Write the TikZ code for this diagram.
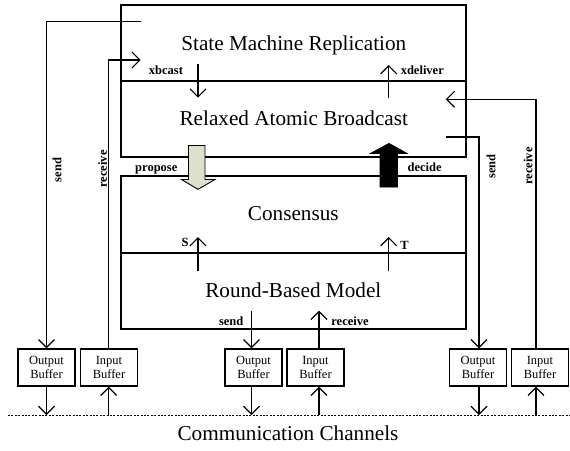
\documentclass[tikz,border=0pt]{standalone}
\usepackage{fontspec}
\setmainfont{Liberation Serif}
\usetikzlibrary{arrows.meta}
\definecolor{proposefill}{HTML}{DCE1CB}
\begin{document}
\begin{tikzpicture}[x=1pt,y=-1pt,line width=1.2pt,
  layerbox/.style={draw,rectangle,minimum width=345pt,inner sep=0pt},
  bufbox/.style={draw,rectangle,minimum width=57pt,minimum height=37pt,inner sep=0pt,
    align=center,font=\fontsize{12.5}{14}\selectfont},
  title/.style={anchor=base,inner sep=0pt,font=\fontsize{21.2}{24}\selectfont},
  lbl/.style={inner sep=0pt,font=\bfseries\fontsize{12.5}{14}\selectfont},
  arr/.style={-{Straight Barb[length=8pt,width=16pt]}}]
\useasboundingbox (0,0) rectangle (570,450);
% layers
\node[layerbox,minimum height=76pt] (smr) at (293.5,43) {};
\node[layerbox,minimum height=76pt] (rab) at (293.5,119) {};
\node[layerbox,minimum height=77pt] (cons) at (293.5,214.5) {};
\node[layerbox,minimum height=76pt] (rbm) at (293.5,291) {};
\node[title] (tsmr) at (293.8,50) {State Machine Replication};
\node[title] (trab) at (293.8,125) {Relaxed Atomic Broadcast};
\node[title] (tcons) at (293.3,220.7) {Consensus};
\node[title] (trbm) at (293.3,297.7) {Round-Based Model};
% buffers
\node[bufbox] (ob1) at (46.5,367.5) {Output\\Buffer};
\node[bufbox] (ib1) at (109,367.5) {Input\\Buffer};
\node[bufbox] (ob2) at (253.5,367.5) {Output\\Buffer};
\node[bufbox] (ib2) at (315.5,367.5) {Input\\Buffer};
\node[bufbox] (ob3) at (478,367.5) {Output\\Buffer};
\node[bufbox] (ib3) at (540,367.5) {Input\\Buffer};
% channel
\coordinate (chL) at (8,415);
\coordinate (chR) at (570,415);
\draw[line width=1pt,dash pattern=on 2pt off 1.4pt] (chL) -- (chR);
\node[title] (tch) at (288,440) {Communication Channels};
% column x positions
\coordinate (x1) at (46.5,0);
\coordinate (x2) at (108.7,0);
\coordinate (x3) at (251.5,0);
\coordinate (x4) at (319,0);
\coordinate (x5) at (479,0);
\coordinate (x6) at (536,0);
% left send / receive
\coordinate (smrSend) at (140.7,21.7);
\coordinate (smrRecv) at (140.7,60);
\draw[arr] (smrSend) -| (ob1.north -| x1);
\draw[arr] (ib1.north -| x2) |- (smrRecv);
\node[lbl,rotate=90] (lsend) at (57,170) {send};
\node[lbl,rotate=90] (lrecv) at (102.5,169) {receive};
% xbcast / xdeliver
\coordinate (xbA) at (198,64);
\coordinate (xbB) at (198,97.7);
\coordinate (xdA) at (388.7,98);
\coordinate (xdB) at (388.7,65);
\draw[arr] (xbA) -- (xbB);
\draw[arr] (xdA) -- (xdB);
\node[lbl,anchor=base] (lxb) at (166,74.7) {xbcast};
\node[lbl,anchor=base] (lxd) at (422.3,74.7) {xdeliver};
% right send / receive
\coordinate (rabRecv) at (445.7,99.3);
\coordinate (rabSend) at (445.7,137);
\draw[arr] (ib3.north -| x6) |- (rabRecv);
\draw[arr] (rabSend) -| (ob3.north -| x5);
\node[lbl,rotate=90] (rsend) at (491,166.5) {send};
\node[lbl,rotate=90] (rrecv) at (528,166) {receive};
% propose / decide block arrows
\filldraw[fill=proposefill,line width=0.9pt] (188.5,145.5) -- (205,145.5) -- (205,179.5) -- (215,179.5)
  -- (198,189.3) -- (181.5,179.5) -- (188.5,179.5) -- cycle;
\filldraw[fill=black,line width=0.9pt] (380,187) -- (397.5,187) -- (397.5,153.3) -- (406.7,153.3)
  -- (389,143.5) -- (370.8,153.3) -- (380,153.3) -- cycle;
\node[lbl,anchor=base] (lprop) at (156.3,171) {propose};
\node[lbl,anchor=base] (ldec) at (424.7,171.7) {decide};
% S / T
\coordinate (sA) at (198,271);
\coordinate (sB) at (198,237);
\coordinate (tA) at (388.7,271);
\coordinate (tB) at (388.7,237);
\draw[arr] (sA) -- (sB);
\draw[arr] (tA) -- (tB);
\node[lbl,anchor=base] (lS) at (185,246.7) {S};
\node[lbl,anchor=base] (lT) at (404.6,249) {T};
% round-based send / receive
\coordinate (rbSend) at (251.5,310.7);
\coordinate (rbRecv) at (319,310.7);
\draw[arr] (rbSend) -- (ob2.north -| x3);
\draw[arr] (ib2.north -| x4) -- (rbRecv);
\node[lbl,anchor=base] (lrbs) at (231.2,325) {send};
\node[lbl,anchor=base] (lrbr) at (350,325) {receive};
% buffers to channel
\draw[arr] (ob1.south -| x1) -- (chL -| x1);
\draw[arr] (chL -| x2) -- (ib1.south -| x2);
\draw[arr] (ob2.south -| x3) -- (chL -| x3);
\draw[arr] (chL -| x4) -- (ib2.south -| x4);
\draw[arr] (ob3.south -| x5) -- (chL -| x5);
\draw[arr] (chL -| x6) -- (ib3.south -| x6);
\end{tikzpicture}
\end{document}
